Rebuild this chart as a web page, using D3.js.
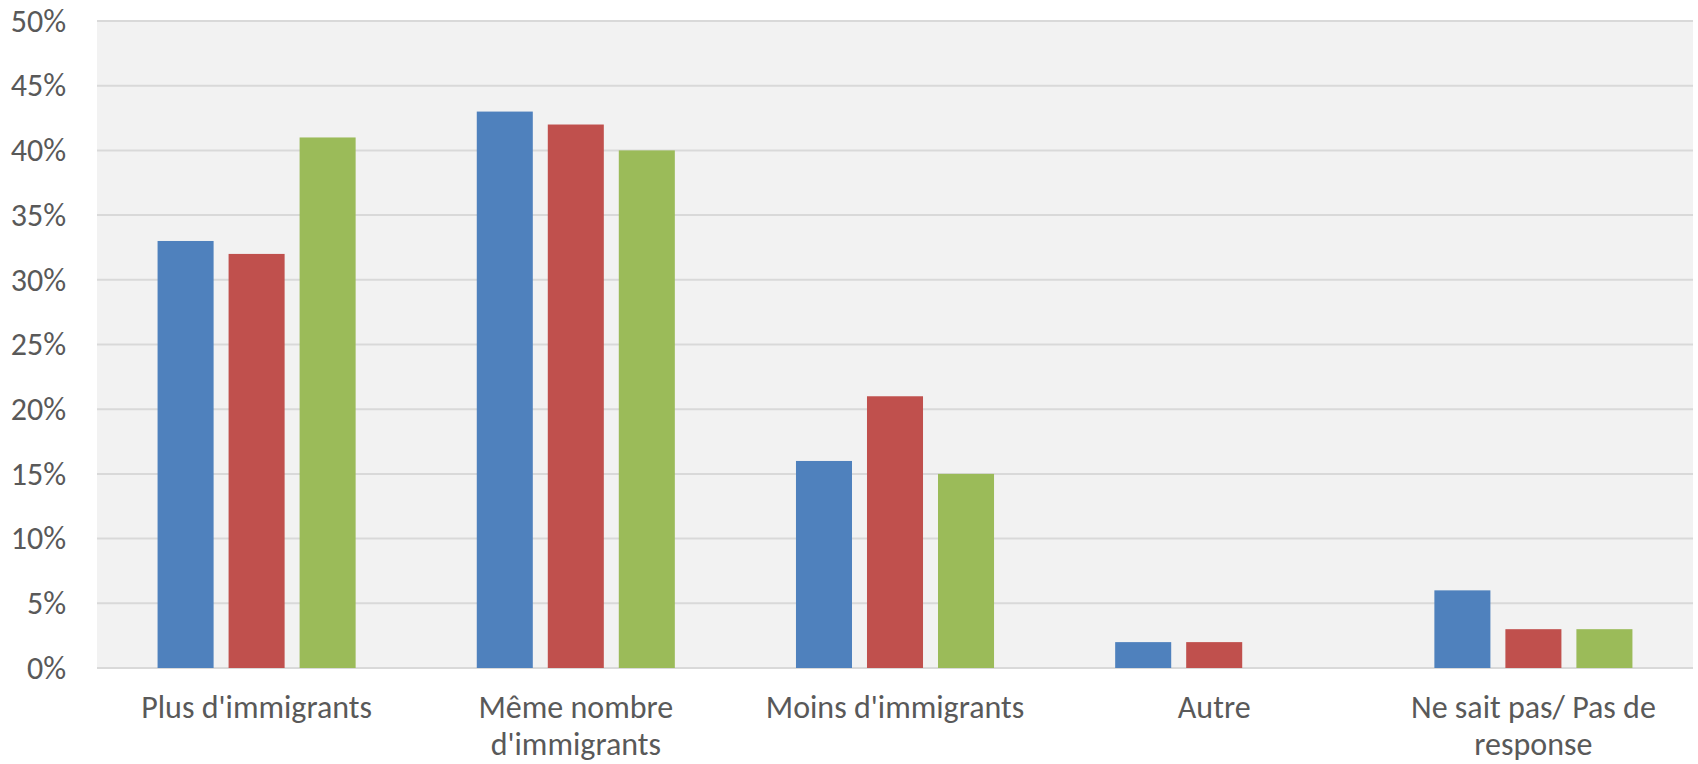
<!DOCTYPE html>
<html>
<head>
<meta charset="utf-8">
<script src="https://cdn.jsdelivr.net/npm/d3@7"></script>
<style>
  body { margin: 0; background: #fff; }
  text { font-family: Carlito, Lato, "Open Sans", sans-serif; fill: #595959; }
</style>
</head>
<body>
<div id="chart"></div>
<script>
// chart data
var categories = ["Plus d'immigrants", "Même nombre d'immigrants", "Moins d'immigrants", "Autre", "Ne sait pas/ Pas de response"];
var seriesNames = ["Série 1", "Série 2", "Série 3"];
var serie1 = [0.33, 0.43, 0.16, 0.02, 0.06];
var serie2 = [0.32, 0.42, 0.21, 0.02, 0.03];
var serie3 = [0.41, 0.40, 0.15, 0, 0.03];
var yTicks = [0, 0.05, 0.10, 0.15, 0.20, 0.25, 0.30, 0.35, 0.40, 0.45, 0.50];
var colors = ["#4f81bd", "#c0504d", "#9bbb59"];

var svgWidth = 1698;
var svgHeight = 764;

var margin = { top: 21, right: 5, bottom: 96, left: 97 };
var width = svgWidth - margin.left - margin.right;
var height = svgHeight - margin.top - margin.bottom;

var svg = d3.select("#chart")
  .append("svg")
  .attr("width", svgWidth)
  .attr("height", svgHeight);

var chartGroup = svg.append("g")
  .attr("transform", `translate(${margin.left}, ${margin.top})`);

// build rows from the arrays
var rows = categories.map(function(c, i) {
  return { cat: c, values: [serie1[i], serie2[i], serie3[i]] };
});

var x0 = d3.scaleBand()
  .domain(categories)
  .range([0, width]);

var x1 = d3.scaleBand()
  .domain(seriesNames)
  .range([0, x0.bandwidth()])
  .paddingInner(0.211)
  .paddingOuter(0.853);

var y = d3.scaleLinear()
  .domain([0, 0.5])
  .range([height, 0]);

// plot background
chartGroup.append("rect")
  .attr("x", 0)
  .attr("y", 0)
  .attr("width", width)
  .attr("height", height)
  .attr("fill", "#f2f2f2");

// gridlines
chartGroup.append("g")
  .selectAll("line")
  .data(yTicks)
  .enter()
  .append("line")
  .attr("x1", 0)
  .attr("x2", width)
  .attr("y1", d => y(d))
  .attr("y2", d => y(d))
  .attr("stroke", "#d9d9d9")
  .attr("stroke-width", 2);

// bars
var groups = chartGroup.selectAll(".cat")
  .data(rows)
  .enter()
  .append("g")
  .attr("class", "cat")
  .attr("transform", d => `translate(${x0(d.cat)}, 0)`);

groups.selectAll("rect")
  .data(d => d.values.map((v, i) => ({ name: seriesNames[i], value: v, i: i })))
  .enter()
  .filter(d => d.value > 0)
  .append("rect")
  .attr("x", d => x1(d.name))
  .attr("y", d => y(d.value))
  .attr("width", x1.bandwidth())
  .attr("height", d => height - y(d.value))
  .attr("fill", d => colors[d.i]);

// y axis
var leftAxis = d3.axisLeft(y)
  .tickValues(yTicks)
  .tickFormat(d3.format(".0%"))
  .tickSize(0)
  .tickPadding(31);

var yAxis = chartGroup.append("g").call(leftAxis);
yAxis.select(".domain").remove();
yAxis.selectAll("text")
  .style("font-size", "32px")
  .attr("fill", "#595959");

// x axis
var bottomAxis = d3.axisBottom(x0)
  .tickSize(0)
  .tickPadding(0);

var xAxis = chartGroup.append("g")
  .attr("transform", `translate(0, ${height})`)
  .call(bottomAxis);
xAxis.select(".domain").remove();
xAxis.selectAll("text")
  .style("font-size", "32px")
  .attr("fill", "#595959")
  .call(wrap, 295);

// wrap long category labels onto two lines
function wrap(texts, w) {
  texts.each(function() {
    var text = d3.select(this);
    var words = text.text().split(/\s+/);
    text.text(null);
    var line = [];
    var lineNo = 0;
    var tspan = text.append("tspan").attr("x", 0).attr("y", 50);
    words.forEach(function(word) {
      line.push(word);
      tspan.text(line.join(" "));
      if (tspan.node().getComputedTextLength() > w && line.length > 1) {
        line.pop();
        tspan.text(line.join(" "));
        line = [word];
        lineNo++;
        tspan = text.append("tspan").attr("x", 0).attr("y", 50 + lineNo * 37).text(word);
      }
    });
    text.attr("dy", null);
  });
}
</script>
</body>
</html>
